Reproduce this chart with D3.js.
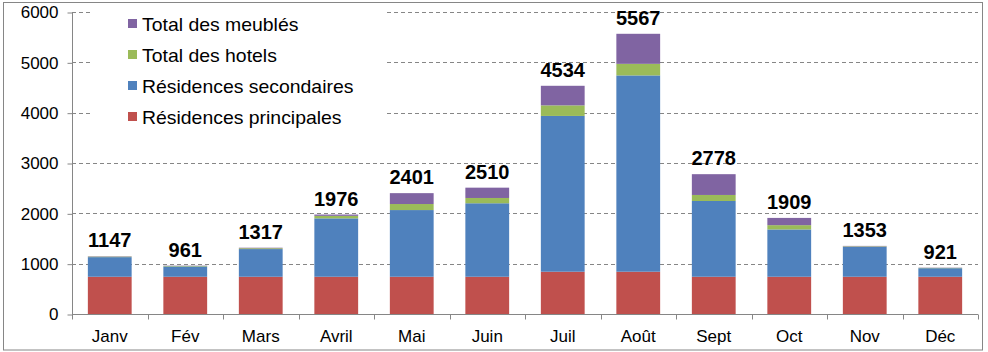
<!DOCTYPE html>
<html><head><meta charset="utf-8">
<script src="https://cdn.jsdelivr.net/npm/d3@7"></script>
<style>body{margin:0;background:#fff}svg{display:block;font-family:"Liberation Sans",Arial,sans-serif}</style>
</head><body><svg id="c" width="988" height="352"></svg>
<script>
const months = ["Janv","Fév","Mars","Avril","Mai","Juin","Juil","Août","Sept","Oct","Nov","Déc"];
const residencesPrincipales = [740,740,740,740,740,740,840,840,740,740,740,740];
const residencesSecondaires = [390,205,550,1160,1325,1460,3095,3900,1505,940,595,170];
const totalHotels = [10,10,17,50,120,105,210,230,120,85,10,6];
const totalMeubles = [7,6,10,26,216,205,389,597,413,144,8,5];
const totals = [1147,961,1317,1976,2401,2510,4534,5567,2778,1909,1353,921];
const yTicks = [0,1000,2000,3000,4000,5000,6000];
const seriesKeys = ["rp","rs","ho","me"];
const seriesNames = ["Résidences principales","Résidences secondaires","Total des hotels","Total des meublés"];
const seriesColors = ["#C0504D","#4F81BD","#9BBB59","#8064A2"];

const W = 988, H = 352;
const m = {left:72, right:10, top:12, bottom:38};
const svg = d3.select("#c");

const rows = months.map((mo,i)=>({month:mo, rp:residencesPrincipales[i], rs:residencesSecondaires[i], ho:totalHotels[i], me:totalMeubles[i], total:totals[i]}));
const stacked = d3.stack().keys(seriesKeys)(rows);

const x = d3.scaleBand().domain(months).range([m.left, W-m.right]).paddingInner(0.42).paddingOuter(0.21);
const y = d3.scaleLinear().domain([0,6000]).range([H-m.bottom, m.top]);
const color = d3.scaleOrdinal().domain(seriesKeys).range(seriesColors);
const grey = "#868686";

// outer border
svg.append("rect").attr("x",3.5).attr("y",2.5).attr("width",979).attr("height",347.5)
  .attr("fill","#fff").attr("stroke",grey).attr("stroke-width",1);

// gridlines
svg.append("g").selectAll("line").data(yTicks.filter(d=>d>0)).join("line")
  .attr("x1",m.left).attr("x2",W-m.right)
  .attr("y1",d=>Math.round(y(d))+0.5).attr("y2",d=>Math.round(y(d))+0.5)
  .attr("stroke",grey).attr("stroke-dasharray","4,3");

// bars
svg.append("g").selectAll("g").data(stacked).join("g").attr("fill",d=>color(d.key))
  .selectAll("rect").data(d=>d).join("rect")
  .attr("x",d=>x(d.data.month)).attr("width",x.bandwidth())
  .attr("y",d=>y(d[1])).attr("height",d=>y(d[0])-y(d[1]));

// y axis
const yAxis = d3.axisLeft(y).tickValues(yTicks).tickSize(5).tickPadding(9).tickFormat(d3.format("d"));
const gy = svg.append("g").attr("transform",`translate(${m.left+0.5},0.5)`).call(yAxis);
gy.select(".domain").attr("stroke",grey).attr("d",`M0,${y(6000)}V${y(0)}`);
gy.selectAll(".tick line").attr("stroke",grey);
gy.selectAll(".tick text").attr("fill","#000").style("font-size","17px").attr("font-family",null);

// x axis
const xAxis = d3.axisBottom(x).tickSize(0).tickPadding(15);
const gx = svg.append("g").attr("transform",`translate(0,${Math.round(y(0))+0.5})`).call(xAxis);
gx.select(".domain").attr("stroke",grey).attr("d",`M${m.left},0H${W-m.right}`);
gx.selectAll(".tick text").attr("fill","#000").style("font-size","17px").attr("font-family",null);
const step = x.step();
gx.append("g").selectAll("line").data(d3.range(months.length+1)).join("line")
  .attr("x1",i=>Math.round(m.left+i*step)+0.5).attr("x2",i=>Math.round(m.left+i*step)+0.5)
  .attr("y1",0).attr("y2",5).attr("stroke",grey);

// totals labels
svg.append("g").selectAll("text").data(rows).join("text")
  .attr("x",d=>x(d.month)+x.bandwidth()/2).attr("y",d=>y(d.total)-9)
  .attr("text-anchor","middle").attr("font-weight","bold").attr("font-size","20px").attr("fill","#000")
  .text(d=>d.total);

// legend
const lg = svg.append("g");
lg.append("rect").attr("x",92).attr("y",6).attr("width",294).attr("height",128).attr("fill","#fff");
const legendOrder = [3,2,1,0];
const li = lg.selectAll("g").data(legendOrder).join("g")
  .attr("transform",(d,i)=>`translate(128,${31+i*31})`);
li.append("rect").attr("x",0).attr("y",-12).attr("width",9).attr("height",9).attr("fill",d=>seriesColors[d]);
li.append("text").attr("x",0).attr("y",0).attr("font-size","17.5px").attr("fill","#000")
  .attr("transform","translate(14,0) scale(1.11,1)")
  .text(d=>seriesNames[d]);
</script></body></html>
